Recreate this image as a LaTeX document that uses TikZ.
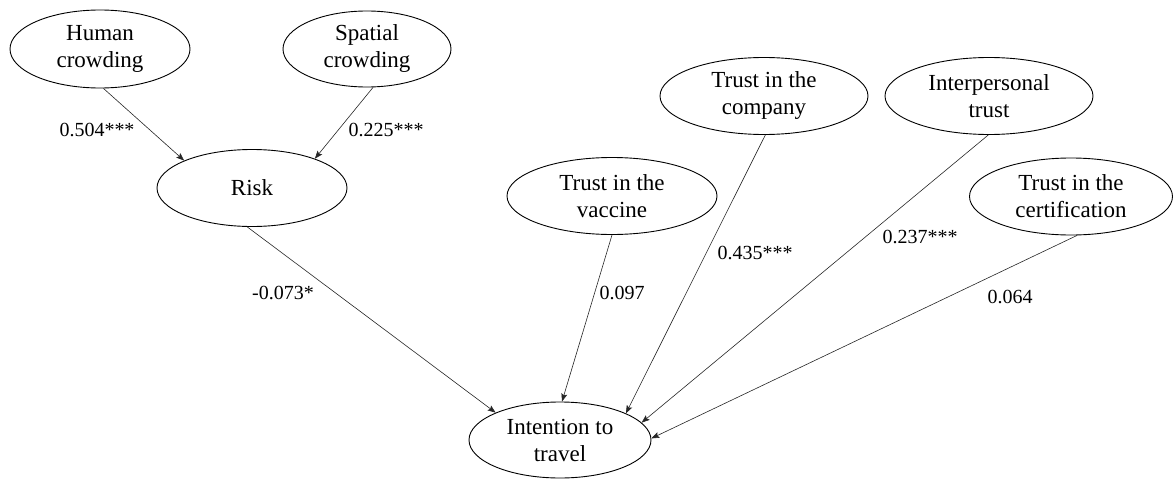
\documentclass[tikz,border=0pt]{standalone}
\usepackage{fontspec}
\setmainfont{Liberation Serif}
\usetikzlibrary{shapes.geometric,arrows.meta}
\tikzset{
  latent/.style={ellipse,draw=black,line width=0.9pt,inner sep=0pt,align=center,
    font=\fontsize{23}{27}\selectfont},
  coef/.style={font=\fontsize{20}{24}\selectfont,inner sep=0pt},
  path/.style={draw=black!85,line width=0.6pt,-{Stealth[length=8pt,width=6pt,inset=1.5pt]}}
}
\begin{document}
\begin{tikzpicture}[x=1pt,y=-1pt]
\useasboundingbox (0,0) rectangle (1176,479);
\node[latent,minimum width=180pt,minimum height=78pt] (hc) at (100,49) {Human\\crowding};
\node[latent,minimum width=168pt,minimum height=76pt] (sc) at (367,49) {Spatial\\crowding};
\node[latent,minimum width=190pt,minimum height=77pt] (risk) at (252,188) {Risk};
\node[latent,minimum width=208pt,minimum height=77pt] (tco) at (764,96) {Trust in the\\company};
\node[latent,minimum width=208pt,minimum height=77pt] (itr) at (989,96) {Interpersonal\\trust};
\node[latent,minimum width=203pt,minimum height=77pt] (tce) at (1071,196.5) {Trust in the\\certification};
\node[latent,minimum width=210pt,minimum height=77pt] (tva) at (612,196) {Trust in the\\vaccine};
\node[latent,minimum width=182pt,minimum height=76pt] (itt) at (560,440) {Intention to\\travel};

\draw[path] (hc.-85) -- (risk.158);
\draw[path] (sc.-81) -- (risk.25);
\draw[path] (risk.-97) -- (itt.157);
\draw[path] (tva.-90) -- (itt.87);
\draw[path] (tco.-88) -- (itt.22);
\draw[path] (itr.-91) -- (itt.12.5);
\draw[path] (tce.-81) -- (itt.1);

\node[coef] (l1) at (97,130) {0.504***};
\node[coef] (l2) at (386,130) {0.225***};
\node[coef] (l3) at (283,293) {-0.073*};
\node[coef] (l4) at (622,293) {0.097};
\node[coef] (l5) at (755,253) {0.435***};
\node[coef] (l6) at (920,237) {0.237***};
\node[coef] (l7) at (1010,297) {0.064};
\end{tikzpicture}
\end{document}
